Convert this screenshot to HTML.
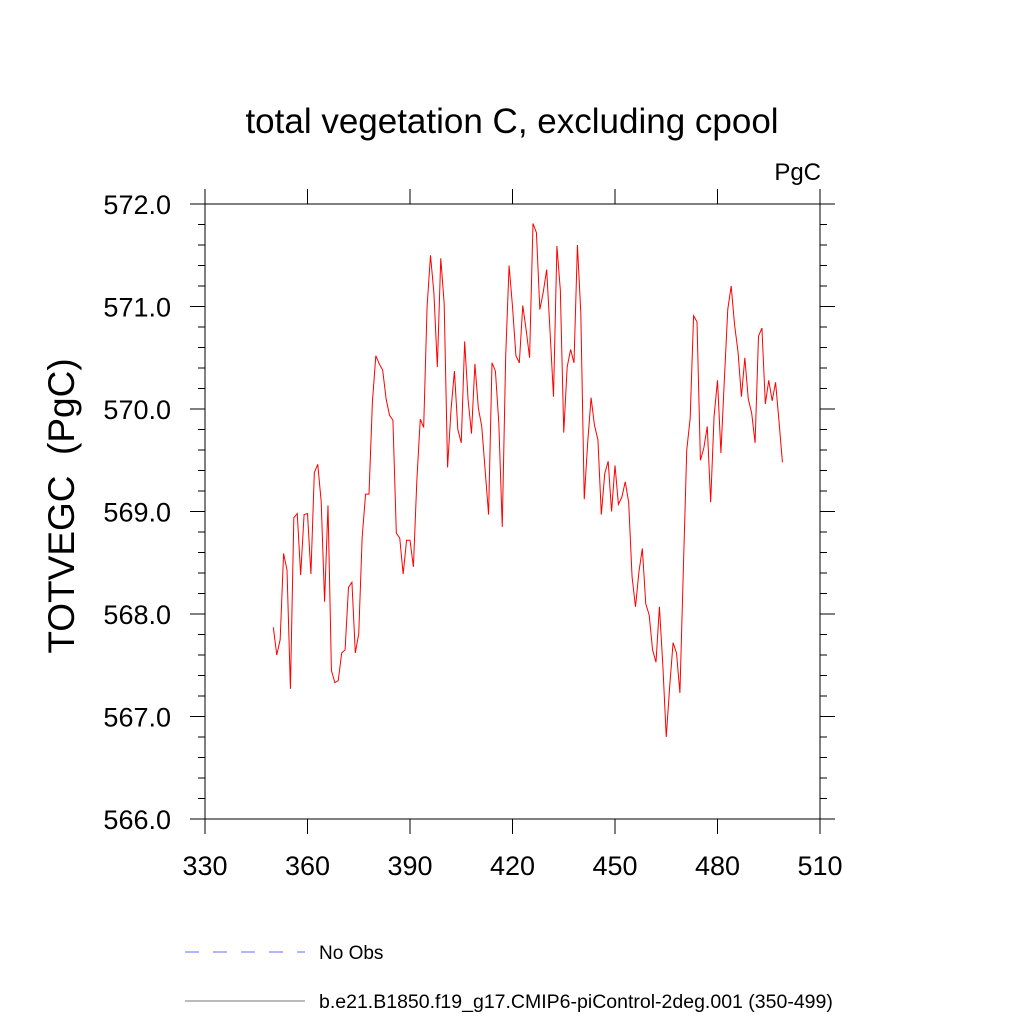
<!DOCTYPE html>
<html><head><meta charset="utf-8"><style>
html,body{margin:0;padding:0;background:#fff;}
svg text{font-family:"Liberation Sans",sans-serif;fill:#000;}
</style></head><body>
<svg id="chart" width="1024" height="1024" xmlns="http://www.w3.org/2000/svg">
<text x="512" y="133" font-size="35" text-anchor="middle">total vegetation C, excluding cpool</text>
<text x="821" y="180" font-size="24" text-anchor="end">PgC</text>
<text x="0" y="0" font-size="37" text-anchor="middle" transform="translate(74,506) rotate(-90)">TOTVEGC&#160;&#160;(PgC)</text>
<g id="axes"></g>
<g id="series"></g>
<g>
<line x1="185" y1="952" x2="305" y2="952" stroke="#6a6aff" stroke-width="1" stroke-dasharray="14,14"/>
<text x="319" y="959" font-size="19">No Obs</text>
<line x1="185" y1="1001" x2="305" y2="1001" stroke="#777" stroke-width="1"/>
<text x="319" y="1008" font-size="19.5">b.e21.B1850.f19_g17.CMIP6-piControl-2deg.001 (350-499)</text>
</g>
</svg>
<script>
const xTicks = [330,360,390,420,450,480,510];
const yTicks = [566.0,567.0,568.0,569.0,570.0,571.0,572.0];
const yearStart = 350;
const values = [
567.87,567.60,567.75,568.59,568.43,567.27,568.94,568.98,568.38,568.97,568.98,568.39,569.38,569.46,569.10,568.12,569.06,567.45,567.33,567.35,567.62,567.65,568.26,568.31,567.62,567.81,568.75,569.17,569.17,
570.07,570.52,570.44,570.38,570.10,569.94,569.89,568.79,568.74,
568.39,568.72,568.72,568.46,569.30,569.90,569.82,
571.00,571.50,571.13,570.41,571.47,571.03,569.43,569.99,570.37,569.80,569.67,570.66,570.09,569.76,570.44,570.01,569.83,569.40,568.97,570.45,570.37,569.86,568.85,570.51,571.40,571.00,570.52,570.45,
571.01,570.77,570.50,571.81,571.72,570.97,571.14,571.36,570.75,570.12,571.59,571.16,569.77,570.41,570.58,570.45,571.60,570.93,569.12,569.67,
570.11,569.84,569.70,568.97,569.37,569.49,569.00,569.45,569.07,569.14,569.29,569.09,568.36,568.07,568.41,568.64,568.10,567.99,567.65,567.53,568.07,567.50,566.80,567.29,567.72,567.62,567.23,568.43,569.60,569.91,570.91,570.85,569.50,569.62,569.83,569.09,569.93,570.28,569.57,570.28,570.97,571.20,570.82,570.56,570.12,570.50,570.10,569.96,569.67,570.71,570.79,570.05,570.28,570.08,570.26,569.88,569.48
];
const X0=205,X1=820,Y0=204,Y1=819;
const xMin=330,xMax=510,yMin=566,yMax=572;
function sx(v){return X0+(v-xMin)/(xMax-xMin)*(X1-X0);}
function sy(v){return Y1-(v-yMin)/(yMax-yMin)*(Y1-Y0);}
const NS="http://www.w3.org/2000/svg";
const axes=document.getElementById('axes');
function mk(tag,attrs,parent){const e=document.createElementNS(NS,tag);for(const k in attrs)e.setAttribute(k,attrs[k]);parent.appendChild(e);return e;}
const frame=mk('rect',{x:X0,y:Y0,width:X1-X0,height:Y1-Y0,fill:'none',stroke:'#000','stroke-width':1},axes);


xTicks.forEach(t=>{
  const x=sx(t);
  const a=mk('line',{x1:x,y1:Y1,x2:x,y2:Y1+15,stroke:'#000'},axes);
  
  
  const b=mk('line',{x1:x,y1:Y0,x2:x,y2:Y0-15,stroke:'#000'},axes);
  
  
  const l=mk('text',{x:x,y:875,'font-size':27,'text-anchor':'middle'},axes);
  l.textContent=String(t);
  
  
});
for(let i=0;i<=30;i++){
  const v=yMin+i*0.2;const y=sy(v);const major=(i%5===0);const len=major?15:7;
  const a=mk('line',{x1:X0,y1:y,x2:X0-len,y2:y,stroke:'#000'},axes);
  
  
  const b=mk('line',{x1:X1,y1:y,x2:X1+len,y2:y,stroke:'#000'},axes);
  
  
}
yTicks.forEach(t=>{
  const l=mk('text',{x:171,y:sy(t)+10,'font-size':27,'text-anchor':'end'},axes);
  l.textContent=t.toFixed(1);
  
  
});
const pts=values.map((v,i)=>sx(yearStart+i).toFixed(2)+','+sy(v).toFixed(2)).join(' ');
const line=mk('polyline',{points:pts,fill:'none',stroke:'#ff0000','stroke-width':1},document.getElementById('series'));


</script>
</body></html>
